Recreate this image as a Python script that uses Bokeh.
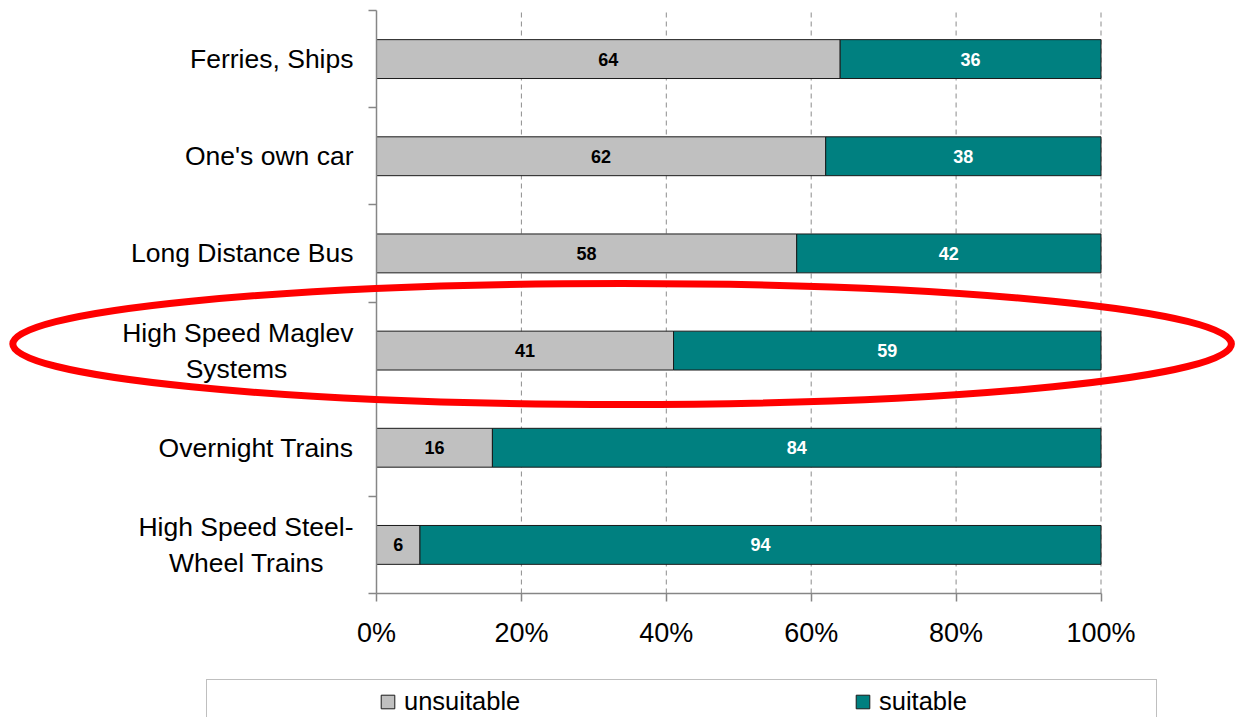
from bokeh.plotting import figure
from bokeh.models import (ColumnDataSource, Range1d, FixedTicker, PrintfTickFormatter,
                          Legend, LegendItem, LinearAxis)
from bokeh.core.properties import value
from bokeh.embed import file_html
from bokeh.resources import INLINE

# ---- data ----
categories = ["Ferries, Ships", "One's own car", "Long Distance Bus",
              "High Speed Maglev\nSystems", "Overnight Trains",
              "High Speed Steel-\nWheel Trains"]
unsuitable = [64, 62, 58, 41, 16, 6]
suitable = [36, 38, 42, 59, 84, 94]
x_ticks = [0, 20, 40, 60, 80, 100]
series_names = ["unsuitable", "suitable"]
highlight = "High Speed Maglev\nSystems"

FONT = "Liberation Sans"
GRAY_UNS = "#C0C0C0"
TEAL = "#008080"
AX = "#868686"

# ---- layout constants (pixels) ----
W, H = 1236, 717
PX0, PX100 = 376.0, 1100.5      # x of 0% and 100%
PY_TOP, PY_BASE = 10.0, 593.0    # top and bottom of category area

n = len(categories)
pos = [n - i - 0.5 for i in range(n)]
total = [u + s for u, s in zip(unsuitable, suitable)]
src = ColumnDataSource(dict(
    y=pos, unsuitable=unsuitable, suitable=suitable, total=total,
    mid_u=[u / 2 for u in unsuitable],
    mid_s=[u + s / 2 for u, s in zip(unsuitable, suitable)],
    lab_u=[str(v) for v in unsuitable],
    lab_s=[str(v) for v in suitable]))

xs = (PX100 - PX0) / 100.0
ys = (PY_BASE - PY_TOP) / n
x_range = Range1d(-PX0 / xs, (W - PX0) / xs)
y_range = Range1d(-(H - PY_BASE) / ys, n + PY_TOP / ys)

p = figure(width=W, height=H, x_range=x_range, y_range=y_range,
           output_backend="svg", toolbar_location=None,
           x_axis_type=None, y_axis_type=None,
           min_border_left=0, min_border_right=0, min_border_top=0,
           min_border_bottom=0)
p.outline_line_color = None
p.background_fill_color = "white"
p.border_fill_color = "white"
p.xgrid.visible = False
p.ygrid.visible = False

# dashed vertical gridlines over the category area
p.segment(x0=x_ticks[1:], y0=[0] * (len(x_ticks) - 1), x1=x_ticks[1:],
          y1=[n] * (len(x_ticks) - 1), line_color="#8c8c8c", line_width=1,
          line_dash="5 4", level="underlay")

# bars
r_u = p.hbar(y="y", left=0, right="unsuitable", height=0.4, source=src,
             fill_color=GRAY_UNS, line_color="#1a1a1a", line_width=1)
r_s = p.hbar(y="y", left="unsuitable", right="total", height=0.4, source=src,
             fill_color=TEAL, line_color="#1a1a1a", line_width=1)

# value labels
p.text(x="mid_u", y="y", text="lab_u", source=src, text_font=value(FONT),
       text_font_size="18px", text_font_style="bold", text_align="center",
       text_baseline="middle", text_color="black")
p.text(x="mid_s", y="y", text="lab_s", source=src, text_font=value(FONT),
       text_font_size="18px", text_font_style="bold", text_align="center",
       text_baseline="middle", text_color="white")

# x axis (fixed at the baseline of the category area)
xaxis = LinearAxis(fixed_location=0, bounds=(0, 100),
                   ticker=FixedTicker(ticks=x_ticks),
                   formatter=PrintfTickFormatter(format="%d%%"))
xaxis.axis_line_color = AX
xaxis.axis_line_width = 1.5
xaxis.major_tick_line_color = AX
xaxis.major_tick_line_width = 1.5
xaxis.major_tick_out = 8
xaxis.major_tick_in = 0
xaxis.minor_tick_line_color = None
xaxis.major_label_text_font = FONT
xaxis.major_label_text_font_size = "27px"
xaxis.major_label_text_color = "black"
xaxis.major_label_standoff = 16
p.add_layout(xaxis, "below")

# y axis (fixed at 0%)
NB = "\u00a0"
labels = []
for c in categories:
    if "\n" in c:
        a, b = c.split("\n")
        pad = {"High Speed Maglev": 9, "High Speed Steel-": 4}.get(a, 0)
        labels.append(a + "\n" + b + NB * pad)
    else:
        labels.append(c)
yaxis = LinearAxis(fixed_location=0, bounds=(0, n),
                   ticker=FixedTicker(ticks=pos, minor_ticks=list(range(n + 1))))
yaxis.major_label_overrides = {pos[i]: labels[i] for i in range(n)}
yaxis.axis_line_color = AX
yaxis.axis_line_width = 1.5
yaxis.major_tick_line_color = None
yaxis.major_tick_out = 0
yaxis.major_tick_in = 0
yaxis.minor_tick_line_color = AX
yaxis.minor_tick_line_width = 1.5
yaxis.minor_tick_out = 8
yaxis.minor_tick_in = 0
yaxis.major_label_text_font = FONT
yaxis.major_label_text_font_size = "26.5px"
yaxis.major_label_text_color = "black"
yaxis.major_label_text_line_height = 1.2
yaxis.major_label_standoff = 15
p.add_layout(yaxis, "left")

# red highlight ellipse around the highlighted category
hi = categories.index(highlight)
p.ellipse(x=[33.9], y=[pos[hi] + 0.068], width=[168.2], height=[1.245],
          fill_color=None, line_color="#FF0000", line_width=7, level="overlay")

# legend frame
dummy = p.scatter(x=[], y=[], size=0, fill_alpha=0, line_alpha=0)
leg_box = Legend(items=[LegendItem(label=" ", renderers=[dummy])],
                 location=(206, -4), orientation="horizontal",
                 padding=5, margin=0, label_width=914, label_height=30,
                 glyph_width=15, glyph_height=15, label_standoff=10,
                 border_line_color="#808080", border_line_width=1.5,
                 background_fill_color="white", background_fill_alpha=1,
                 label_text_font=FONT, label_text_font_size="25px")
p.add_layout(leg_box)

leg = Legend(items=[LegendItem(label=series_names[0], renderers=[r_u]),
                    LegendItem(label=series_names[1], renderers=[r_s])],
             location=(379, 1), orientation="horizontal",
             padding=0, margin=0, spacing=325, label_width=125, label_height=30,
             glyph_width=17, glyph_height=17, label_standoff=8,
             border_line_color=None, background_fill_alpha=0,
             label_text_font=FONT, label_text_font_size="25.5px",
             label_text_color="black")
p.add_layout(leg)

open("out.html", "w").write(file_html(p, INLINE))
